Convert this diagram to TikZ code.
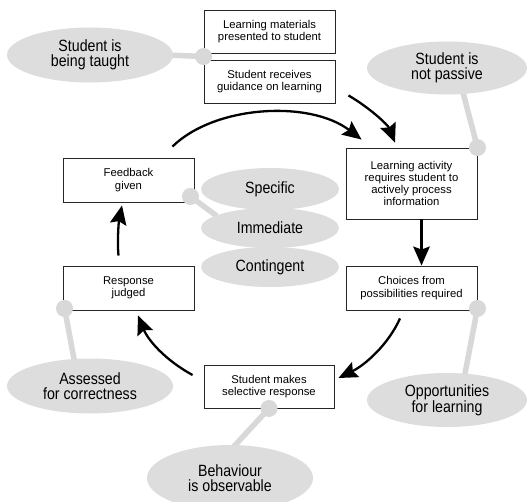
\documentclass[tikz,border=0pt]{standalone}
\usepackage{fontspec}
\setmainfont{Liberation Sans}
\newfontfamily\ellfont{Liberation Sans}[FakeStretch=0.87]
\usetikzlibrary{shapes.geometric,arrows.meta,calc}
\pgfdeclarelayer{linklayer}
\pgfsetlayers{linklayer,main}
\definecolor{ellfill}{RGB}{221,221,221}
\definecolor{knobcol}{RGB}{216,216,216}
\tikzset{
  boxnode/.style={draw=black!85, line width=0.9pt, fill=white, align=center, inner sep=0pt,
    font=\fontsize{11.3}{12.3}\selectfont, minimum width=131pt},
  ellnode/.style={ellipse, fill=ellfill, draw=none, align=center, inner sep=0pt,
    font=\ellfont\fontsize{16.3}{15}\selectfont},
  link/.style={draw=knobcol, line width=5.5pt},
  knob/.style={circle, fill=knobcol, minimum size=17pt, inner sep=0pt},
  flow/.style={draw=black, line width=2.3pt, -{Stealth[length=19pt,width=16.5pt,inset=3pt]}}
}
\begin{document}
\begin{tikzpicture}[x=1pt,y=-1pt]
\useasboundingbox (0,0) rectangle (529,502);
\begin{pgfonlayer}{linklayer}
\fill[white] (0,0) rectangle (529,502);
\end{pgfonlayer}
\begin{scope}
\clip (0,0) rectangle (529,502);
% ellipses
\node[ellnode, minimum width=166pt, minimum height=55pt] (etaught) at (90,55) {Student is\\being taught};
\node[ellnode, minimum width=160pt, minimum height=53pt] (epassive) at (447,68) {Student is\\not passive};
\node[ellnode, minimum width=138pt, minimum height=40pt] (econt) at (270,267) {Contingent};
\node[ellnode, minimum width=138pt, minimum height=40pt] (eimm) at (270,228) {Immediate};
\node[ellnode, minimum width=138pt, minimum height=42pt] (espec) at (270,189) {Specific};
\node[ellnode, minimum width=166pt, minimum height=55pt] (eassess) at (90,386) {Assessed\\for correctness};
\node[ellnode, minimum width=160pt, minimum height=54pt] (eopp) at (447,400) {Opportunities\\for learning};
\node[ellnode, minimum width=166pt, minimum height=66pt] (ebeh) at (230,478) {Behaviour\\is observable};
\end{scope}
% boxes
\node[boxnode, minimum height=43pt] (b1) at (269.5,31.5) {Learning materials\\presented to student};
\node[boxnode, minimum height=43pt] (b2) at (269.5,81.5) {Student receives\\guidance on learning};
\node[boxnode, minimum height=44pt] (b3) at (128.5,180) {Feedback\\given};
\node[boxnode, minimum height=71pt] (b4) at (411.5,183.5) {Learning activity\\requires student to\\actively process\\information};
\node[boxnode, minimum height=44pt] (b5) at (411.5,288) {Choices from\\possibilities required};
\node[boxnode, minimum height=44pt] (b6) at (128.5,288) {Response\\judged};
\node[boxnode, minimum width=130pt, minimum height=43pt] (b7) at (269,386.5) {Student makes\\selective response};
% knobs
\node[knob] (k1) at ($(b1.south west)!0.5!(b2.north west)$) {};
\node[knob] (k2) at (b4.north east) {};
\node[knob] (k3) at ($(b3.south east)+(-4,-6)$) {};
\node[knob] (k4) at ($(b6.south west)+(2,-2)$) {};
\node[knob] (k5) at ($(b5.south east)+(0,-2)$) {};
\node[knob] (k6) at (b7.south) {};
% links, behind the ellipses
\coordinate (l1) at ($(etaught.east)+(-8,0)$);
\coordinate (l2) at ($(epassive.south)+(15,-6)$);
\coordinate (l3) at ($(eimm.west)+(16,-12)$);
\coordinate (l4) at ($(eassess.north)+(-15,6)$);
\coordinate (l5) at ($(eopp.north)+(17,6)$);
\coordinate (l6) at ($(ebeh.north)+(-2,8)$);
\begin{pgfonlayer}{linklayer}
\draw[link] (k1.center) -- (l1);
\draw[link] (k2.center) -- (l2);
\draw[link] (k3.center) -- (l3);
\draw[link] (k4.center) -- (l4);
\draw[link] (k5.center) -- (l5);
\draw[link] (k6.center) -- (l6);
\end{pgfonlayer}
% flow arrows
\coordinate (aS) at ($(b3.north east)+(-22,-11)$);
\coordinate (aE) at ($(b4.north west)+(16,-8)$);
\draw[flow] (aS) .. controls (215,105) and (310,100) .. (aE);
\coordinate (bS) at ($(b2.south east)+(13,-8)$);
\coordinate (bE) at ($(b4.north)+(-16.5,-5)$);
\draw[flow] (bS) .. controls (370,108) and (388,125) .. (bE);
\draw[flow] ($(b4.south)+(10,0)$) -- ($(b5.north)+(10,0)$);
\coordinate (dS) at ($(b5.south)+(-11.5,8)$);
\coordinate (dE) at ($(b7.east)+(4,-8.5)$);
\draw[flow] (dS) .. controls (388,345) and (365,365) .. (dE);
\coordinate (eS) at ($(b7.west)+(-11,-11.5)$);
\coordinate (eE) at ($(b6.south)+(9.5,5)$);
\draw[flow] (eS) .. controls (165,360) and (148,340) .. (eE);
\coordinate (fS) at ($(b6.north)+(-10,-10)$);
\coordinate (fE) at ($(b3.south)+(-6.5,3)$);
\draw[flow] (fS) .. controls (117,240) and (119,220) .. (fE);
\end{tikzpicture}
\end{document}
